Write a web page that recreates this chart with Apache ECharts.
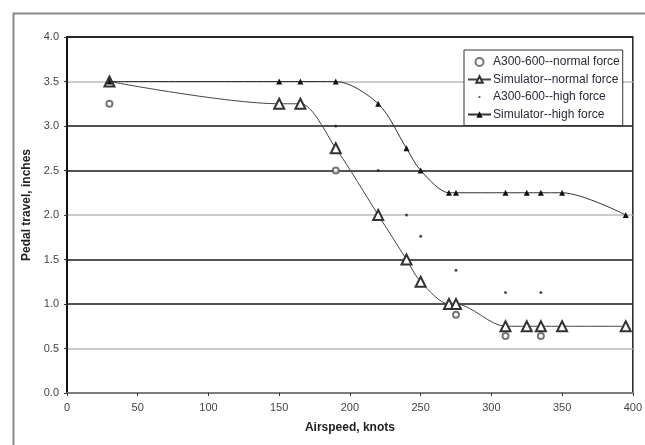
<!DOCTYPE html>
<html>
<head>
<meta charset="utf-8">
<script src="https://cdn.jsdelivr.net/npm/echarts@6/dist/echarts.min.js"></script>
<style>
  html, body { margin: 0; padding: 0; background: #fff; }
  #chart { width: 645px; height: 445px; }
</style>
</head>
<body>
<div id="chart"></div>
<script>
// airspeed (knots) / pedal travel (inches)
const simNormalX = [30, 150, 165, 190, 220, 240, 250, 270, 275, 310, 325, 335, 350, 395]
const simNormalY = [3.5, 3.25, 3.25, 2.75, 2.0, 1.5, 1.25, 1.0, 1.0, 0.75, 0.75, 0.75, 0.75, 0.75]

const simHighX = [30, 150, 165, 190, 220, 240, 250, 270, 275, 310, 325, 335, 350, 395]
const simHighY = [3.5, 3.5, 3.5, 3.5, 3.25, 2.75, 2.5, 2.25, 2.25, 2.25, 2.25, 2.25, 2.25, 2.0]

const a300NormalX = [30, 190, 275, 310, 335]
const a300NormalY = [3.25, 2.5, 0.88, 0.64, 0.64]

const a300HighX = [190, 220, 240, 250, 275, 310, 335]
const a300HighY = [3.0, 2.5, 2.0, 1.76, 1.38, 1.13, 1.13]

const seriesNames = [
  'A300-600--normal force',
  'Simulator--normal force',
  'A300-600--high force',
  'Simulator--high force'
]

const zip = (xs, ys) => xs.map((x, i) => [x, ys[i]])

// small dot icon for the legend (outer moves keep the box size)
const dotIcon = 'path://M0,0M10,10M3.6,5A1.4,1.4,0,1,1,6.4,5A1.4,1.4,0,1,1,3.6,5Z'

const options = {
  animation: false,
  backgroundColor: '#fff',
  textStyle: { fontFamily: 'Liberation Sans, Arial, sans-serif' },
  grid: {
    left: 67,
    right: 11,
    top: 37,
    bottom: 52,
    show: true,
    borderColor: '#222',
    borderWidth: 1.5
  },
  graphic: [
    {
      type: 'rect',
      left: 11,
      top: 11,
      shape: { width: 700, height: 500 },
      style: { fill: 'none', stroke: '#888', lineWidth: 2 },
      silent: true
    }
  ],
  legend: {
    orient: 'vertical',
    left: 464,
    top: 50,
    padding: [6, 3, 5, 3],
    itemWidth: 23,
    itemHeight: 8,
    itemGap: 5.5,
    backgroundColor: '#fff',
    borderColor: '#333',
    borderWidth: 1,
    textStyle: { fontSize: 12, color: '#2a2a3a', padding: [0, 0, 0, -3] },
    data: [
      { name: seriesNames[0], icon: 'emptyCircle' },
      { name: seriesNames[1] },
      { name: seriesNames[2], icon: dotIcon },
      { name: seriesNames[3] }
    ]
  },
  xAxis: {
    type: 'value',
    min: 0,
    max: 400,
    interval: 50,
    name: 'Airspeed, knots',
    nameLocation: 'middle',
    nameGap: 29,
    nameTextStyle: { fontSize: 12, fontWeight: 'bold', color: '#222' },
    axisLine: { show: true, lineStyle: { color: '#999', width: 1.5 } },
    axisTick: { show: true, length: 3, lineStyle: { color: '#333' } },
    axisLabel: { fontSize: 11, color: '#444', margin: 9 },
    splitLine: { show: false }
  },
  yAxis: {
    type: 'value',
    min: 0,
    max: 4,
    interval: 0.5,
    name: 'Pedal travel, inches',
    nameLocation: 'middle',
    nameGap: 32,
    nameTextStyle: { fontSize: 12, fontWeight: 'bold', color: '#222', padding: [0, 0, 0, 20] },
    axisLine: { show: true, lineStyle: { color: '#111', width: 2 } },
    axisTick: { show: true, length: 3, lineStyle: { color: '#333' } },
    axisLabel: {
      fontSize: 11,
      color: '#444',
      margin: 8,
      formatter: v => v.toFixed(1)
    },
    splitLine: {
      show: true,
      lineStyle: { color: ['#1a1a1a', '#bbb', '#1a1a1a'], width: 1.5 }
    }
  },
  series: [
    {
      name: seriesNames[0],
      type: 'scatter',
      symbol: 'emptyCircle',
      symbolSize: 6,
      itemStyle: { color: '#555', borderColor: '#555', borderWidth: 1 },
      data: zip(a300NormalX, a300NormalY)
    },
    {
      name: seriesNames[1],
      type: 'line',
      smooth: 0.3,
      symbol: 'emptyTriangle',
      symbolSize: 10,
      itemStyle: { color: '#333', borderColor: '#333', borderWidth: 1 },
      lineStyle: { color: '#444', width: 1 },
      data: zip(simNormalX, simNormalY)
    },
    {
      name: seriesNames[2],
      type: 'scatter',
      symbol: 'circle',
      symbolSize: 3,
      itemStyle: { color: '#222' },
      data: zip(a300HighX, a300HighY)
    },
    {
      name: seriesNames[3],
      type: 'line',
      smooth: 0.3,
      symbol: 'triangle',
      symbolSize: 6,
      itemStyle: { color: '#111' },
      lineStyle: { color: '#333', width: 1 },
      data: zip(simHighX, simHighY)
    }
  ]
}

const chart = echarts.init(document.getElementById('chart'))
chart.setOption(options)
window.addEventListener('resize', function () {
  chart.resize()
})
</script>
</body>
</html>
